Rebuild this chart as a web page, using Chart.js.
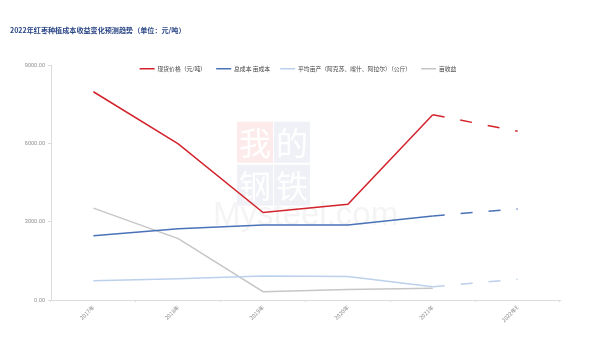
<!DOCTYPE html>
<html>
<head>
<meta charset="utf-8">
<script src="https://cdn.jsdelivr.net/npm/chart.js@4/dist/chart.umd.min.js"></script>
<style>
  html, body { margin: 0; padding: 0; background: #fff; }
  #wrap { width: 591px; height: 353px; position: relative; }
</style>
</head>
<body>
<div id="wrap"><canvas id="chart"></canvas></div>
<script>
// categories and series
const years = ['2017年', '2018年', '2019年', '2020年', '2021年', '2022年E'];
const spotPrice = [8000, 6000, 3360, 3680, 7120, 6480];      // 现货价格（元/吨）
const costPerMu = [2470, 2740, 2880, 2880, 3230, 3500];      // 总成本 亩成本
const yieldPerMu = [740, 820, 920, 900, 510, 800];           // 平均亩产（公斤）
const incomePerMu = [3530, 2360, 320, 400, 450, null];       // 亩收益
const yTicks = [0, 3000, 6000, 9000];

const CJK = '"Noto Sans CJK SC", "Noto Sans", sans-serif';

// forecast part (2021 -> 2022E) drawn dashed
const forecastDash = ctx => ctx.p0DataIndex >= 4 ? [12, 16] : undefined;

function lineSet(label, data, color) {
  return {
    label: label,
    data: data,
    borderColor: color,
    backgroundColor: color,
    borderWidth: 1.5,
    pointRadius: 0,
    pointHoverRadius: 0,
    tension: 0,
    fill: false,
    segment: { borderDash: forecastDash }
  };
}

// faint site watermark behind the lines
const watermark = {
  id: 'watermark',
  beforeDatasetsDraw(chart) {
    const { ctx, chartArea } = chart;
    const cx = chartArea.left + 223, cy = chartArea.top + 98;
    ctx.save();
    const cells = [
      ['我', -37, -42, '#fdeaea'],
      ['的', 0, -42, '#eff1f6'],
      ['钢', -37, 1, '#eff1f6'],
      ['铁', 0, 1, '#eff1f6']
    ];
    ctx.textAlign = 'center';
    ctx.textBaseline = 'middle';
    ctx.font = '32px ' + CJK;
    cells.forEach(c => {
      ctx.fillStyle = c[3];
      ctx.fillRect(cx + c[1], cy + c[2], 36, 41);
      ctx.fillStyle = '#ffffff';
      ctx.fillText(c[0], cx + c[1] + 18, cy + c[2] + 21);
    });
    ctx.fillStyle = '#f4f4f4';
    ctx.font = '33px "Liberation Sans", sans-serif';
    ctx.textAlign = 'left';
    ctx.textBaseline = 'alphabetic';
    ctx.fillText('Mysteel.com', cx - 61, cy + 61);
    ctx.restore();
  }
};

// let the legend row sit over the top of the plot area
const legendOverlap = {
  id: 'legendOverlap',
  beforeInit(chart) {
    const fit = chart.legend.fit;
    chart.legend.fit = function() {
      fit.bind(chart.legend)();
      this.height = 9.8;
    };
  },
  afterLayout(chart) {
    // grow the legend box again so its clip does not hide the items,
    // and nudge it right to centre it over the plot
    chart.legend.bottom += 20;
    chart.legend.height += 20;
    chart.legend.left += 26;
  }
};

new Chart(document.getElementById('chart'), {
  type: 'line',
  data: {
    labels: years,
    datasets: [
      lineSet('现货价格（元/吨）', spotPrice, '#d3232c'),
      lineSet('总成本 亩成本', costPerMu, '#4a72b8'),
      lineSet('平均亩产（阿克苏、喀什、阿拉尔）（公斤）', yieldPerMu, '#bcd0ec'),
      lineSet('亩收益', incomePerMu, '#c6c6c6')
    ]
  },
  options: {
    responsive: true,
    maintainAspectRatio: false,
    animation: false,
    layout: { padding: { left: 10, right: 31, top: 0, bottom: 0 } },
    plugins: {
      title: {
        display: true,
        text: '2022年红枣种植成本收益变化预测趋势（单位：元/吨）',
        align: 'start',
        color: '#2a4686',
        font: { family: CJK, size: 7.1, weight: 'bold' },
        padding: { top: 26.4, bottom: 21 }
      },
      legend: {
        display: true,
        position: 'top',
        labels: {
          usePointStyle: true,
          pointStyle: 'line',
          pointStyleWidth: 15,
          boxHeight: 6,
          padding: 10,
          color: '#404040',
          font: { family: CJK, size: 5.8 }
        }
      },
      tooltip: { enabled: false }
    },
    scales: {
      x: {
        offset: true,
        grid: {
          offset: true,
          drawOnChartArea: false,
          drawTicks: true,
          tickLength: 2,
          color: '#dcdcdc'
        },
        border: { color: '#dcdcdc' },
        ticks: {
          minRotation: 45,
          maxRotation: 45,
          padding: 2,
          color: '#8c8c8c',
          font: { family: CJK, size: 5.5 }
        },
        afterFit(scale) { scale.height = 53; }
      },
      y: {
        min: 0,
        max: 9000,
        afterBuildTicks(scale) { scale.ticks = yTicks.map(v => ({ value: v })); },
        grid: {
          drawOnChartArea: false,
          drawTicks: true,
          tickLength: 3,
          color: '#dcdcdc'
        },
        border: { color: '#dcdcdc' },
        ticks: {
          padding: 3,
          color: '#8c8c8c',
          font: { family: '"Liberation Sans", sans-serif', size: 5.6 },
          callback: v => Number(v).toFixed(2)
        },
        afterFit(scale) { scale.width = 41; }
      }
    }
  },
  plugins: [watermark, legendOverlap]
});
</script>
</body>
</html>
